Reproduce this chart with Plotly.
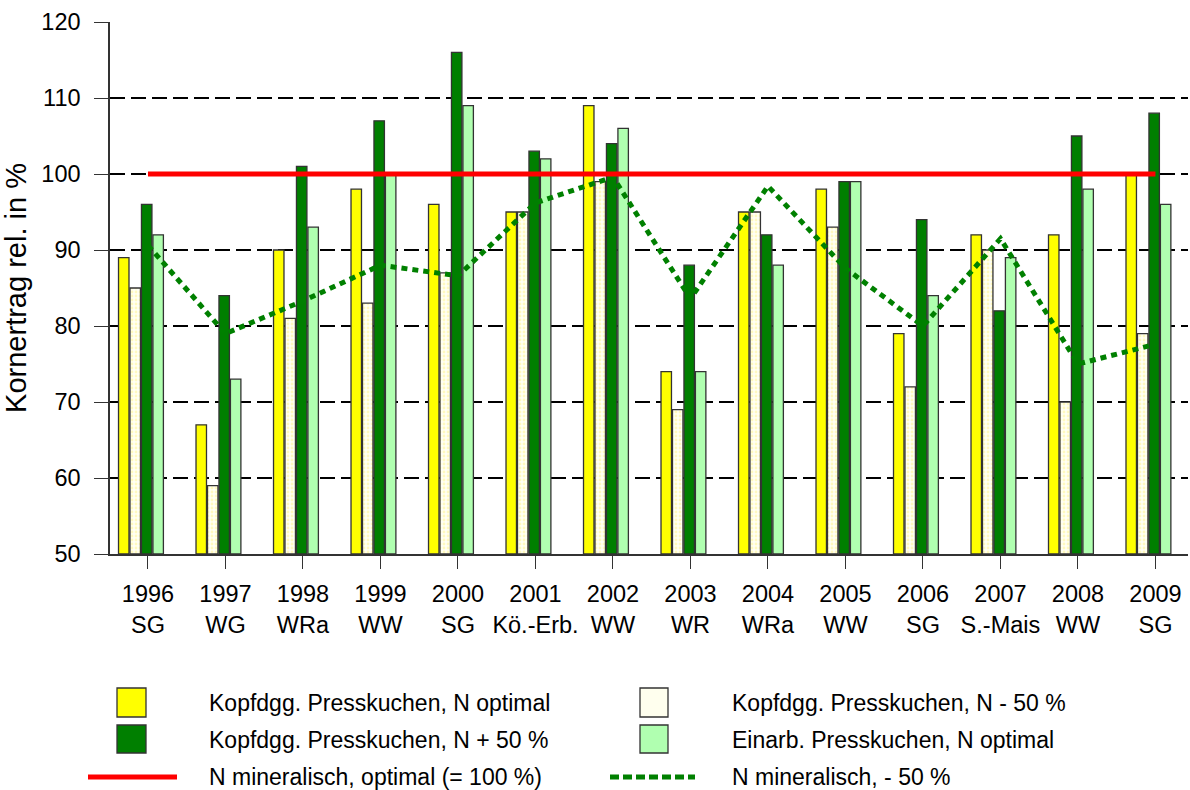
import plotly.graph_objects as go

# Relative grain yield (Kornertrag) per year and crop
years = ["1996", "1997", "1998", "1999", "2000", "2001", "2002",
         "2003", "2004", "2005", "2006", "2007", "2008", "2009"]
crops = ["SG", "WG", "WRa", "WW", "SG", "Kö.-Erb.", "WW",
         "WR", "WRa", "WW", "SG", "S.-Mais", "WW", "SG"]

kopf_n_opt = [89, 67, 90, 98, 96, 95, 109, 74, 95, 98, 79, 92, 92, 100]
kopf_n_minus50 = [85, 59, 81, 83, 87, 95, 99, 69, 95, 93, 72, 90, 70, 79]
kopf_n_plus50 = [96, 84, 101, 107, 116, 103, 104, 88, 92, 99, 94, 82, 105, 108]
einarb_n_opt = [92, 73, 93, 100, 109, 102, 106, 74, 88, 99, 84, 89, 98, 96]
min_opt = [100, 100, 100, 100, 100, 100, 100, 100, 100, 100, 100, 100, 100, 100]
min_minus50 = [90.6, 79, 83.3, 88, 86.6, 96.2, 99.6, 83.6, 98.4, 87.6, 80, 91.5, 75, 77.6]

labels = {
    "opt": "Kopfdgg. Presskuchen, N optimal",
    "m50": "Kopfdgg. Presskuchen, N - 50 %",
    "p50": "Kopfdgg. Presskuchen, N + 50 %",
    "ein": "Einarb. Presskuchen, N optimal",
    "mopt": "N mineralisch, optimal (= 100 %)",
    "mm50": "N mineralisch, - 50 %",
}

FONT = "Liberation Sans, Arial, sans-serif"
YELLOW = "#FFFF00"
CREAM = "#FFFFF2"
DARK = "#007F00"
LIGHT = "#B0FFB0"
RED = "#FF0000"
EDGE = "#333333"

xpos = list(range(len(years)))
bar_w = 0.135
step = 0.148
first = -0.38

fig = go.Figure()

bar_specs = [
    (kopf_n_opt, labels["opt"], dict(color=YELLOW)),
    (kopf_n_minus50, labels["m50"], dict(color=CREAM, pattern=dict(
        shape=".", fgcolor="#FFF38A", bgcolor="#FFFFF4", size=4, solidity=0.4))),
    (kopf_n_plus50, labels["p50"], dict(color=DARK)),
    (einarb_n_opt, labels["ein"], dict(color=LIGHT)),
]
for k, (vals, name, mk) in enumerate(bar_specs):
    mk = dict(mk)
    mk["line"] = dict(color=EDGE, width=1.3)
    fig.add_trace(go.Bar(
        x=xpos, y=[v - 50 for v in vals], base=50, name=name,
        width=bar_w, offset=first + k * step, marker=mk,
        showlegend=False,
    ))

fig.add_trace(go.Scatter(
    x=xpos, y=min_minus50, mode="lines", name=labels["mm50"],
    line=dict(color="#008000", width=5, dash="6px,5px"), showlegend=False,
))
fig.add_trace(go.Scatter(
    x=xpos, y=min_opt, mode="lines", name=labels["mopt"],
    line=dict(color=RED, width=5), showlegend=False,
))

# Plot area in pixels (for the legend block below the axes)
L, R, T, B = 110, 1188, 22, 554
W, H = 1190, 790


def px(xp):
    return (xp - L) / (R - L)


def py(yp):
    return (B - yp) / (B - T)


shapes = []
annotations = []

# Legend swatches: two columns, three rows
swatches = [
    (117, 146, 688, 717, YELLOW, labels["opt"], 207),
    (640, 668, 688, 717, "#FFFFEE", labels["m50"], 730),
    (117, 146, 725, 753, DARK, labels["p50"], 207),
    (640, 668, 725, 753, LIGHT, labels["ein"], 730),
]
for x0, x1, y0, y1, col, txt, tx in swatches:
    shapes.append(dict(type="rect", xref="paper", yref="paper",
                       x0=px(x0), x1=px(x1), y0=py(y1), y1=py(y0),
                       fillcolor=col, line=dict(color=EDGE, width=1.3)))
    annotations.append(dict(xref="paper", yref="paper", x=px(tx), y=py((y0 + y1) / 2 + 0.5),
                            text=txt, showarrow=False, xanchor="left", yanchor="middle",
                            font=dict(family=FONT, size=23, color="black")))

shapes.append(dict(type="line", xref="paper", yref="paper",
                   x0=px(88), x1=px(177), y0=py(777), y1=py(777),
                   line=dict(color=RED, width=5)))
annotations.append(dict(xref="paper", yref="paper", x=px(207), y=py(777),
                        text=labels["mopt"], showarrow=False, xanchor="left", yanchor="middle",
                        font=dict(family=FONT, size=23, color="black")))
shapes.append(dict(type="line", xref="paper", yref="paper",
                   x0=px(610), x1=px(695), y0=py(777), y1=py(777),
                   line=dict(color="#008000", width=5, dash="9px,4px")))
annotations.append(dict(xref="paper", yref="paper", x=px(730), y=py(777),
                        text=labels["mm50"], showarrow=False, xanchor="left", yanchor="middle",
                        font=dict(family=FONT, size=23, color="black")))

fig.update_layout(
    width=W, height=H,
    margin=dict(l=L, r=W - R, t=T, b=H - B),
    paper_bgcolor="white", plot_bgcolor="white",
    font=dict(family=FONT, size=23, color="black"),
    barmode="overlay",
    shapes=shapes,
    annotations=annotations,
    xaxis=dict(
        range=[-0.49, 13.42],
        tickmode="array", tickvals=xpos,
        ticktext=[f"{y}<br>{c}" for y, c in zip(years, crops)],
        ticks="outside", ticklen=13, tickwidth=1.3, tickcolor=EDGE,
        showline=True, linecolor=EDGE, linewidth=1.5,
        showgrid=False, zeroline=False,
        tickfont=dict(family=FONT, size=23.5, color="black"),
        ticklabelstandoff=5,
    ),
    yaxis=dict(
        range=[50, 120], dtick=10, tick0=50,
        ticks="outside", ticklen=14, tickwidth=1.3, tickcolor=EDGE,
        showline=True, linecolor=EDGE, linewidth=1.5,
        showgrid=True, gridcolor="black", gridwidth=2, griddash="15px,6px",
        zeroline=False,
        tickfont=dict(family=FONT, size=23.5, color="black"),
        ticklabelstandoff=9,
        title=dict(text="Kornertrag rel. in %", standoff=8,
                   font=dict(family=FONT, size=29, color="black")),
    ),
)

fig.write_html("out.html")
